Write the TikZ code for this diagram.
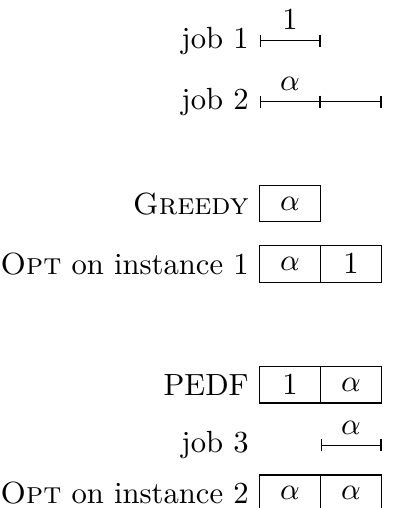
\documentclass[tikz,border=0pt]{standalone}
\usetikzlibrary{positioning,arrows.meta}

\begin{document}
\begin{tikzpicture}[x=0.7cm,y=0.7cm,
	slot/.style={draw,minimum width=0.7cm,minimum height=0.42cm,inner sep=0pt,outer sep=0pt},
	span/.style={{Bar[width=4pt]}-{Bar[width=4pt]}},
	halfspan/.style={-{Bar[width=4pt]}}]
	\useasboundingbox (-4.254,0.667) rectangle (2.189,-7.66);
	% the jobs of instance 1
	\coordinate (j1a) at (0,0);
	\coordinate (j1b) at (1,0);
	\coordinate (j2a) at (0,-1);
	\coordinate (j2b) at (1,-1);
	\coordinate (j2c) at (2,-1);
	\node[left=0pt of j1a] (j1) {job 1};
	\node[left=0pt of j2a] (j2) {job 2};
	\draw[span] (j1a) -- node[above] (l1) {$1$} (j1b);
	\draw[span] (j2a) -- node[above] (l2) {$\alpha$} (j2b);
	\draw[halfspan] (j2b) -- (j2c);
	% schedules on instance 1
	\coordinate (gr) at (0,-2.67);
	\coordinate (o1) at (0,-3.66);
	\node[left=0pt of gr] (grl) {\textsc{Greedy}};
	\node[slot,right=0pt of gr] (gr1) {$\alpha$};
	\node[left=0pt of o1] (o1l) {\textsc{Opt} on instance 1};
	\node[slot,right=0pt of o1] (o11) {$\alpha$};
	\node[slot,right=0pt of o11] (o12) {$1$};
	% instance 2
	\coordinate (pe) at (0,-5.64);
	\coordinate (j3a) at (1,-6.63);
	\coordinate (j3b) at (2,-6.63);
	\coordinate (j3) at (0,-6.63);
	\coordinate (o2) at (0,-7.42);
	\node[left=0pt of pe] (pel) {PEDF};
	\node[slot,right=0pt of pe] (pe1) {$1$};
	\node[slot,right=0pt of pe1] (pe2) {$\alpha$};
	\node[left=0pt of j3] (j3l) {job 3};
	\draw[span] (j3a) -- node[above] (l3) {$\alpha$} (j3b);
	\node[left=0pt of o2] (o2l) {\textsc{Opt} on instance 2};
	\node[slot,right=0pt of o2] (o21) {$\alpha$};
	\node[slot,right=0pt of o21] (o22) {$\alpha$};
\end{tikzpicture}
\end{document}
